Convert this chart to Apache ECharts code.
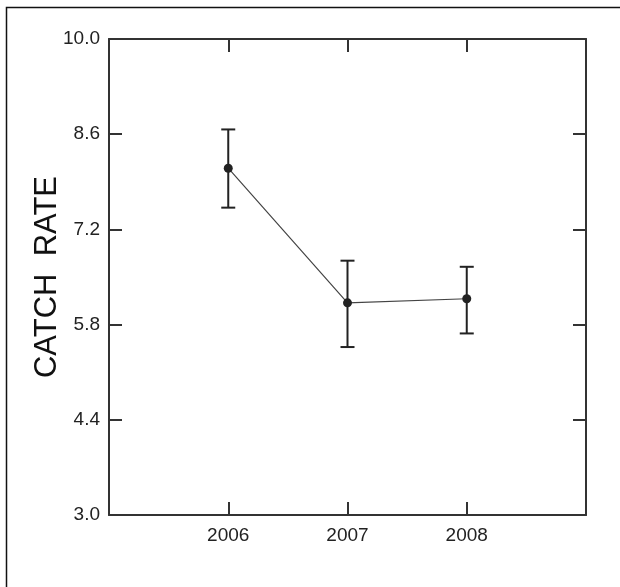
<!DOCTYPE html>
<html>
<head>
<meta charset="utf-8">
<script src="https://cdn.jsdelivr.net/npm/echarts@6/dist/echarts.min.js"></script>
<style>
html,body{margin:0;padding:0;background:#fff;}
#chart{width:620px;height:587px;}
</style>
</head>
<body>
<div id="chart"></div>
<script>
var years = [2006, 2007, 2008];
var means = [8.10, 6.12, 6.18];
var upper = [8.67, 6.74, 6.65];
var lower = [7.52, 5.47, 5.67];
var yTicks = [3.0, 4.4, 5.8, 7.2, 8.6, 10.0];
var xTickLabels = ['2006', '2007', '2008'];
var yTitle = 'CATCH  RATE';

var chart = echarts.init(document.getElementById('chart'), null, {renderer: 'canvas'});
var axisColor = '#333';
var font = 'Arial, "Liberation Sans", sans-serif';

var lineData = years.map(function (y, i) { return [y, means[i]]; });
var errData = years.map(function (y, i) { return [y, lower[i], upper[i]]; });

var option = {
  animation: false,
  backgroundColor: '#fff',
  graphic: [{
    type: 'rect', left: 4, top: 5, z: -1,
    shape: {width: 800, height: 800},
    style: {fill: 'none', stroke: '#111', lineWidth: 1.5}
  }],
  grid: {left: 109, right: 34, top: 39, bottom: 72, containLabel: false},
  xAxis: [{
    type: 'value', min: 2005, max: 2009, interval: 1, position: 'bottom',
    axisLine: {show: true, onZero: false, lineStyle: {color: axisColor, width: 2}},
    axisTick: {show: true, inside: true, length: 13, lineStyle: {color: axisColor, width: 2}},
    splitLine: {show: false},
    axisLabel: {
      margin: 11, color: '#222', fontSize: 19, fontFamily: font,
      formatter: function (v) { var i = years.indexOf(v); return i >= 0 ? xTickLabels[i] : ''; }
    }
  }, {
    type: 'value', min: 2005, max: 2009, interval: 1, position: 'top',
    axisLine: {show: true, onZero: false, lineStyle: {color: axisColor, width: 2}},
    axisTick: {show: true, inside: true, length: 13, lineStyle: {color: axisColor, width: 2}},
    splitLine: {show: false},
    axisLabel: {show: false}
  }],
  yAxis: [{
    type: 'value', min: yTicks[0], max: yTicks[yTicks.length - 1], interval: 1.4, position: 'left',
    name: yTitle, nameLocation: 'middle', nameGap: 46, nameRotate: 90, nameMoveOverlap: false,
    nameTextStyle: {fontSize: 31, color: '#111', fontFamily: font},
    axisLine: {show: true, onZero: false, lineStyle: {color: axisColor, width: 2}},
    axisTick: {show: true, inside: true, length: 13, lineStyle: {color: axisColor, width: 2}},
    splitLine: {show: false},
    axisLabel: {
      margin: 9, color: '#222', fontSize: 19, fontFamily: font,
      formatter: function (v) { return v.toFixed(1); }
    }
  }, {
    type: 'value', min: yTicks[0], max: yTicks[yTicks.length - 1], interval: 1.4, position: 'right',
    axisLine: {show: true, onZero: false, lineStyle: {color: axisColor, width: 2}},
    axisTick: {show: true, inside: true, length: 13, lineStyle: {color: axisColor, width: 2}},
    splitLine: {show: false},
    axisLabel: {show: false}
  }],
  series: [{
    type: 'line', data: lineData, xAxisIndex: 0, yAxisIndex: 0,
    symbol: 'circle', symbolSize: 9,
    lineStyle: {color: '#444', width: 1.2},
    itemStyle: {color: '#222'},
    z: 3
  }, {
    type: 'custom', data: errData, xAxisIndex: 0, yAxisIndex: 0,
    renderItem: function (params, api) {
      var x = api.value(0);
      var lo = api.coord([x, api.value(1)]);
      var hi = api.coord([x, api.value(2)]);
      var hw = 7;
      var st = {stroke: '#222', lineWidth: 2};
      return {
        type: 'group',
        children: [
          {type: 'line', shape: {x1: lo[0], y1: lo[1], x2: hi[0], y2: hi[1]}, style: st},
          {type: 'line', shape: {x1: lo[0] - hw, y1: lo[1], x2: lo[0] + hw, y2: lo[1]}, style: st},
          {type: 'line', shape: {x1: hi[0] - hw, y1: hi[1], x2: hi[0] + hw, y2: hi[1]}, style: st}
        ]
      };
    },
    z: 2
  }]
};
chart.setOption(option);
</script>
</body>
</html>
